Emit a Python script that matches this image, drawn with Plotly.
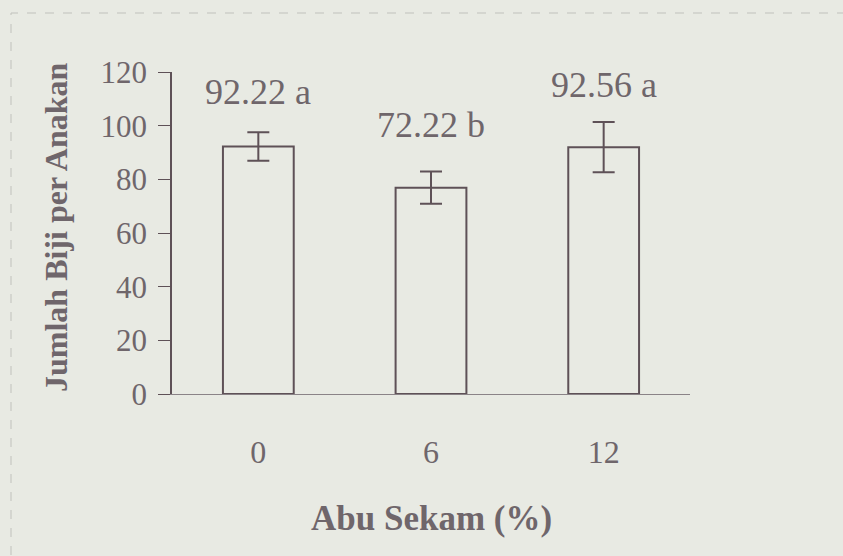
import plotly.graph_objects as go

categories = ["0", "6", "12"]
bar_values = [92.22, 76.9, 92.0]
error_values = [5.3, 6.0, 9.4]
bar_labels = ["92.22 a", "72.22 b", "92.56 a"]
label_y = [112.7, 100.3, 115.2]
y_ticks = [0, 20, 40, 60, 80, 100, 120]

ink = "#5e5157"
text_col = "#6f666b"
bg = "#e8eae3"
font = "Liberation Serif"

W, H = 843, 556
l, r, t, b = 172, 153, 72, 162
pw, ph = W - l - r, H - t - b


def px(xp):
    return (xp - l) / pw


def py(yp):
    return (H - b - yp) / ph


fig = go.Figure()
fig.add_trace(go.Bar(
    x=categories, y=bar_values, width=0.41,
    marker=dict(color="rgba(0,0,0,0)", line=dict(color=ink, width=2)),
    error_y=dict(type="data", array=error_values, visible=True,
                 color=ink, thickness=2, width=11),
    showlegend=False,
))

for i, (lab, yy) in enumerate(zip(bar_labels, label_y)):
    fig.add_annotation(x=i, y=yy, text=lab, showarrow=False,
                       font=dict(family=font, size=36, color=text_col),
                       xref="x", yref="y")

fig.add_annotation(x=px(56), y=py(228), xref="paper", yref="paper",
                   xanchor="center", yanchor="middle",
                   text="<b>Jumlah Biji per Anakan</b>",
                   showarrow=False, textangle=-90,
                   font=dict(family=font, size=32, color=text_col))
fig.add_annotation(x=px(431), y=py(518), xref="paper", yref="paper",
                   xanchor="center", yanchor="middle",
                   text="<b>Abu Sekam (%)</b>", showarrow=False,
                   font=dict(family=font, size=35, color=text_col))

# faint dashed frame of the scanned page
fig.add_shape(type="rect", xref="paper", yref="paper",
              x0=px(11), x1=px(900), y0=py(600), y1=py(13),
              line=dict(color="#c0c1bc", width=1, dash="dash"), layer="below")

fig.update_layout(
    width=W, height=H,
    margin=dict(l=l, r=r, t=t, b=b),
    paper_bgcolor=bg, plot_bgcolor=bg,
    font=dict(family=font, color=text_col),
    xaxis=dict(showline=True, linecolor="#8a8387", linewidth=1, ticks="",
               tickfont=dict(size=32, color=text_col), ticklabelstandoff=30,
               range=[-0.5, 2.5], showgrid=False, zeroline=False),
    yaxis=dict(range=[0, 120], tickvals=y_ticks, showline=True, linecolor=ink,
               linewidth=1.5, ticks="outside", ticklen=12, tickcolor=ink,
               tickfont=dict(size=31, color=text_col), ticklabelstandoff=5,
               showgrid=False, zeroline=False),
)

fig.write_html("out.html", config={"displayModeBar": False},
               post_script="document.body.style.margin='0';document.body.style.overflow='hidden';")
